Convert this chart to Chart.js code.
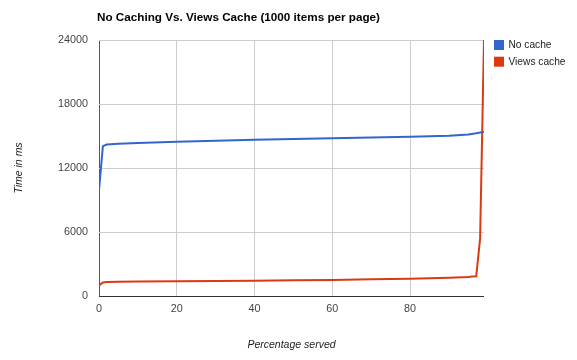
<!DOCTYPE html>
<html>
<head>
<meta charset="utf-8">
<script src="https://cdn.jsdelivr.net/npm/chart.js@4/dist/chart.umd.min.js"></script>
<style>
html,body{margin:0;padding:0;background:#fff;}
canvas{display:block;}
</style>
</head>
<body>
<canvas id="c" width="577" height="360"></canvas>
<script>
const chartTitle = "No Caching Vs. Views Cache (1000 items per page)";
const xTitle = "Percentage served";
const yTitle = "Time in ms";
const seriesNames = ["No cache", "Views cache"];
const seriesColors = ["#3366cc", "#dc3912"];

const noCacheX = [0, 1, 2, 5, 10, 20, 30, 40, 50, 60, 70, 80, 85, 90, 95, 97, 98, 99];
const noCacheY = [9900, 14050, 14200, 14280, 14350, 14470, 14560, 14640, 14720, 14800, 14860, 14920, 14970, 15030, 15150, 15250, 15320, 15400];

const viewsX = [0, 1, 2, 5, 10, 20, 30, 40, 50, 60, 70, 80, 85, 90, 95, 96, 97, 98, 99];
const viewsY = [1000, 1270, 1320, 1340, 1360, 1380, 1410, 1440, 1470, 1510, 1560, 1620, 1660, 1710, 1790, 1820, 1850, 5400, 24000];

const xTicks = [0, 20, 40, 60, 80];
const yTicks = [0, 6000, 12000, 18000, 24000];

const FONT = "'Liberation Sans', Arial, sans-serif";

function pts(xs, ys) { return xs.map((x, i) => ({x: x, y: ys[i]})); }

const overlay = {
  id: 'overlay',
  afterDraw(chart) {
    const ctx = chart.ctx;
    ctx.save();
    ctx.fillStyle = '#000';
    ctx.font = "bold 11.7px " + FONT;
    ctx.textBaseline = 'middle';
    ctx.textAlign = 'left';
    ctx.fillText(chartTitle, 97, 18);
    ctx.font = "10.2px " + FONT;
    seriesNames.forEach((n, i) => {
      const y = 40 + i * 16.7;
      ctx.fillStyle = seriesColors[i];
      ctx.fillRect(494, y, 10, 10);
      ctx.fillStyle = '#222';
      ctx.fillText(n, 508.5, y + 5.5);
    });
    ctx.restore();
  }
};

new Chart(document.getElementById('c'), {
  type: 'line',
  data: {
    datasets: [
      { label: seriesNames[0], data: pts(noCacheX, noCacheY), borderColor: seriesColors[0], backgroundColor: seriesColors[0], borderWidth: 2, pointRadius: 0, tension: 0, fill: false },
      { label: seriesNames[1], data: pts(viewsX, viewsY), borderColor: seriesColors[1], backgroundColor: seriesColors[1], borderWidth: 2, pointRadius: 0, tension: 0, fill: false }
    ]
  },
  options: {
    responsive: false,
    animation: false,
    devicePixelRatio: 1,
    layout: { padding: { left: 0, top: 40, right: 93, bottom: 0 } },
    plugins: { legend: { display: false }, title: { display: false }, tooltip: { enabled: false } },
    scales: {
      x: {
        type: 'linear', min: 0, max: 99,
        afterBuildTicks(scale) { scale.ticks = xTicks.map(v => ({value: v})); },
        afterFit(scale) { scale.height = 64; },
        border: { display: false },
        grid: { drawTicks: false, color: ctx => (ctx.tick && ctx.tick.value === 0) ? '#555' : '#cccccc', lineWidth: 1 },
        ticks: { padding: 7, color: '#444', font: { family: FONT, size: 10.8 }, maxRotation: 0, callback: v => String(v) },
        title: { display: true, text: xTitle, color: '#222', font: { family: FONT, size: 10.5, style: 'italic' }, padding: { top: 0, bottom: 9 } }
      },
      y: {
        min: 0, max: 24000,
        afterBuildTicks(scale) { scale.ticks = yTicks.map(v => ({value: v})); },
        afterFit(scale) { scale.width = 99; },
        border: { display: false },
        grid: { drawTicks: false, color: ctx => (ctx.tick && ctx.tick.value === 0) ? '#333' : '#cccccc', lineWidth: 1 },
        ticks: { padding: 11, color: '#444', font: { family: FONT, size: 10.8 }, callback: v => String(v) },
        title: { display: true, text: yTitle, color: '#222', font: { family: FONT, size: 10.5, style: 'italic' }, padding: { top: 13, bottom: 0 } }
      }
    }
  },
  plugins: [overlay]
});
</script>
</body>
</html>
